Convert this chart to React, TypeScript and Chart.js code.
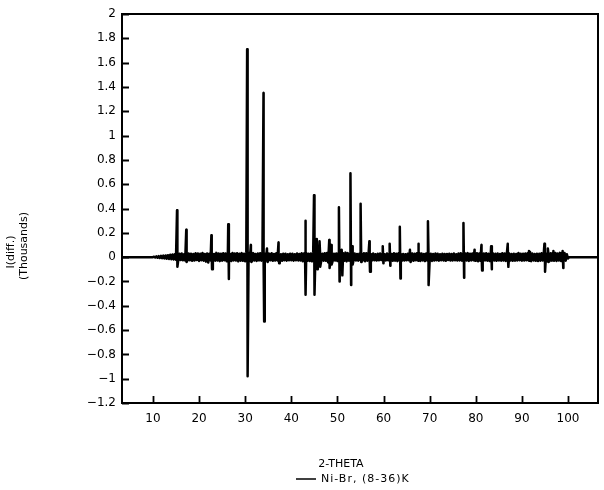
import React, { useEffect, useRef } from "react";
import { Chart, registerables } from "chart.js";

Chart.register(...registerables);

// ---- axis ranges & ticks ----
const X_MIN = 3.3;
const X_MAX = 106.5;
const Y_MIN = -1.2;
const Y_MAX = 2;
const xTickValues = [10, 20, 30, 40, 50, 60, 70, 80, 90, 100];
const yTickValues = [-1.2, -1, -0.8, -0.6, -0.4, -0.2, 0, 0.2, 0.4, 0.6, 0.8, 1, 1.2, 1.4, 1.6, 1.8, 2];

// ---- texts ----
const seriesLabel = "Ni-Br, (8-36)K";
const xTitle = "2-THETA";
const yTitleLines = ["I(diff.)", "(Thousands)"];

// ---- data (I(diff.) in counts; axis shows thousands) ----
// background difference signal, sampled every 0.25 deg starting at 10 deg
const NOISE_START = 10;
const NOISE_STEP = 0.25;
const noiseCounts = [
  0, 4, -3, 6, -5, 8, -7, 10, -9, 12, -11, 14, -13, 16, -15, 19, -17, 21, -19, 23,
  -22, 25, -24, 27, -23, 29, -26, 24, -28, 30, -27, 29, -25, 27, -30, 26, -28, 31, -24, 29,
  -31, 27, -26, 34, -29, 25, -37, 30, -44, 28, -27, 33, -32, 26, -29, 35, -28, 30, -33, 27,
  -29, 32, -26, 29, -34, 28, -30, 26, -32, 34, -27, 29, -28, 31, -35, 27, -29, 33, -30, 28,
  -34, 37, -39, 35, -32, 29, -30, 33, -28, 26, -31, 29, -27, 32, -29, 27, -33, 30, -28, 34,
  -29, 27, -26, 31, -30, 25, -28, 32, -27, 29, -26, 24, -30, 28, -25, 27, -29, 23, -26, 28,
  -25, 27, -29, 24, -26, 30, -27, 25, -28, 31, -34, 29, -27, 33, -30, 28, -32, 29, -35, 37,
  -39, 34, -37, 35, -33, 29, -31, 28, -29, 32, -30, 34, -44, 39, -37, 31, -29, 27, -28, 30,
  -32, 34, -36, 29, -33, 31, -30, 37, -35, 33, -29, 27, -28, 30, -26, 29, -27, 25, -29, 28,
  -26, 29, -27, 31, -34, 32, -29, 26, -28, 25, -27, 30, -26, 24, -28, 27, -25, 29, -24, 27,
  -26, 23, -27, 29, -25, 28, -24, 26, -30, 32, -29, 27, -33, 31, -28, 26, -29, 25, -27, 24,
  -26, 28, -25, 31, -27, 29, -30, 27, -26, 32, -28, 34, -31, 29, -27, 26, -33, 30, -28, 32,
  -29, 27, -31, 26, -28, 29, -25, 27, -29, 24, -26, 28, -27, 25, -30, 26, -24, 27, -28, 25,
  -27, 29, -26, 24, -28, 30, -27, 32, -29, 27, -30, 29, -28, 33, -31, 28, -27, 30, -26, 39,
  -29, 32, -34, 29, -30, 33, -37, 29, -27, 31, -29, 28, -32, 30, -26, 29, -28, 27, -30, 29,
  -27, 25, -29, 32, -28, 30, -31, 34, -33, 29, -28, 26, -30, 27, -29, 25, -27, 34, -26, 28,
  -29, 27, -28, 30, -26, 32, -29, 44, -33, 29, -27, 26, -30, 28, -32, 27, -29, 31, -28, 33,
  -32, 30, -34, 29, -33, 31, -29, 37, -30, 34, -31, 29, -28, 35, -32, 39, -37, 33, -29, 24,
  -11, 0,
];

// sharp difference peaks: position (2-theta), positive extreme, negative extreme
const peakTheta = [
  15.3, 17.3, 22.75, 26.4, 30.5, 31.3, 34.05, 34.8, 37.3,
  43.1, 45.0, 45.6, 46.2, 48.3, 48.7, 50.4, 51.0, 52.9, 53.3,
  55.1, 57.0, 59.9, 61.4, 63.6, 65.8, 67.6, 69.7,
  77.4, 79.8, 81.3, 83.4, 87.0, 91.6, 94.95, 95.7, 96.9, 98.9,
];
const peakTopCounts = [
  385, 225, 180, 270, 1710, 100, 1350, 70, 120,
  300, 510, 150, 130, 140, 100, 410, 60, 690, 90,
  440, 130, 90, 110, 250, 60, 110, 295,
  280, 60, 100, 90, 110, 50, 110, 70, 50, 50,
];
const peakBottomCounts = [
  -80, -40, -100, -180, -980, -40, -530, -40, -50,
  -310, -310, -100, -80, -90, -60, -200, -150, -230, -60,
  -40, -120, -50, -70, -175, -40, -30, -230,
  -170, -30, -110, -100, -80, -30, -120, -40, -30, -90,
];

// zero line before the scan starts and after it ends
const flatTheta = [3.3, 106.5];

type Pt = { x: number; y: number };

function buildPoints(): Pt[] {
  const pts: Pt[] = [];
  pts.push({ x: flatTheta[0], y: 0 });
  noiseCounts.forEach((c, i) => pts.push({ x: NOISE_START + i * NOISE_STEP, y: c / 1000 }));
  peakTheta.forEach((t, i) => {
    pts.push({ x: t - 0.07, y: peakTopCounts[i] / 1000 });
    pts.push({ x: t + 0.07, y: peakBottomCounts[i] / 1000 });
  });
  pts.push({ x: flatTheta[1], y: 0 });
  pts.sort((a, b) => a.x - b.x);
  return pts;
}

const FONT = "'DejaVu Sans', sans-serif";

const framePlugin = {
  id: "frameAndText",
  afterDatasetsDraw(chart: any) {
    const { ctx, chartArea } = chart;
    const { left, right, top, bottom } = chartArea;
    const xs = chart.scales.x;
    const ys = chart.scales.y;
    ctx.save();
    ctx.strokeStyle = "#000";
    ctx.lineWidth = 2;
    ctx.strokeRect(left, top, right - left, bottom - top);
    ctx.lineWidth = 1.8;
    ctx.beginPath();
    xTickValues.forEach((v) => {
      const px = Math.round(xs.getPixelForValue(v)) + 0.5;
      ctx.moveTo(px, bottom);
      ctx.lineTo(px, bottom - 7);
    });
    yTickValues.forEach((v) => {
      const py = Math.round(ys.getPixelForValue(v)) + 0.5;
      ctx.moveTo(left, py);
      ctx.lineTo(left + 7, py);
    });
    ctx.stroke();

    ctx.fillStyle = "#000";
    // x title
    ctx.font = `11px ${FONT}`;
    ctx.textAlign = "center";
    ctx.textBaseline = "middle";
    ctx.fillText(xTitle, 341, 464);
    // legend
    ctx.lineWidth = 1.5;
    ctx.beginPath();
    ctx.moveTo(296, 479);
    ctx.lineTo(316, 479);
    ctx.stroke();
    ctx.textAlign = "left";
    (ctx as any).letterSpacing = "1px";
    ctx.fillText(seriesLabel, 321, 479);
    (ctx as any).letterSpacing = "0px";
    // y title (rotated)
    ctx.save();
    ctx.translate(11, 252);
    ctx.rotate(-Math.PI / 2);
    ctx.textAlign = "center";
    ctx.fillText(yTitleLines[0], 0, 0);
    ctx.restore();
    ctx.save();
    ctx.translate(24, 246);
    ctx.rotate(-Math.PI / 2);
    ctx.textAlign = "center";
    ctx.fillText(yTitleLines[1], 0, 0);
    ctx.restore();
    ctx.restore();
  },
};

function fmt(v: number): string {
  const r = Math.round(v * 10) / 10;
  return String(r).replace("-", "\u2212");
}

export default function App() {
  const ref = useRef<HTMLCanvasElement | null>(null);
  useEffect(() => {
    if (!ref.current) return;
    const chart = new Chart(ref.current, {
      type: "line",
      data: {
        datasets: [
          {
            label: seriesLabel,
            data: buildPoints(),
            borderColor: "#000",
            backgroundColor: "#000",
            borderWidth: 2.5,
            borderJoinStyle: "round",
            borderCapStyle: "round",
            pointRadius: 0,
            tension: 0,
            fill: false,
          },
        ],
      },
      options: {
        animation: false,
        responsive: false,
        maintainAspectRatio: false,
        layout: { padding: { left: 0, right: 6, top: 14, bottom: 0 } },
        plugins: {
          legend: { display: false },
          tooltip: { enabled: false },
          title: { display: false },
        },
        scales: {
          x: {
            type: "linear",
            min: X_MIN,
            max: X_MAX,
            afterBuildTicks: (s: any) => {
              s.ticks = xTickValues.map((v) => ({ value: v }));
            },
            afterFit: (s: any) => {
              s.height = 87;
            },
            grid: { display: false, drawTicks: false },
            border: { display: false },
            ticks: {
              padding: 9,
              autoSkip: false,
              maxRotation: 0,
              color: "#000",
              font: { family: FONT, size: 12 },
              callback: (v: any) => String(v),
            },
          },
          y: {
            type: "linear",
            min: Y_MIN,
            max: Y_MAX,
            afterBuildTicks: (s: any) => {
              s.ticks = yTickValues.map((v) => ({ value: v }));
            },
            afterFit: (s: any) => {
              s.width = 122;
            },
            grid: { display: false, drawTicks: false },
            border: { display: false },
            ticks: {
              padding: 6,
              autoSkip: false,
              color: "#000",
              font: { family: FONT, size: 12 },
              callback: (v: any) => fmt(Number(v)),
            },
          },
        },
      },
      plugins: [framePlugin],
    });
    return () => chart.destroy();
  }, []);
  return (
    <div style={{ position: "absolute", left: 0, top: 0, width: 604, height: 490, background: "#fff" }}>
      <canvas ref={ref} width={604} height={490} style={{ display: "block" }} />
    </div>
  );
}
